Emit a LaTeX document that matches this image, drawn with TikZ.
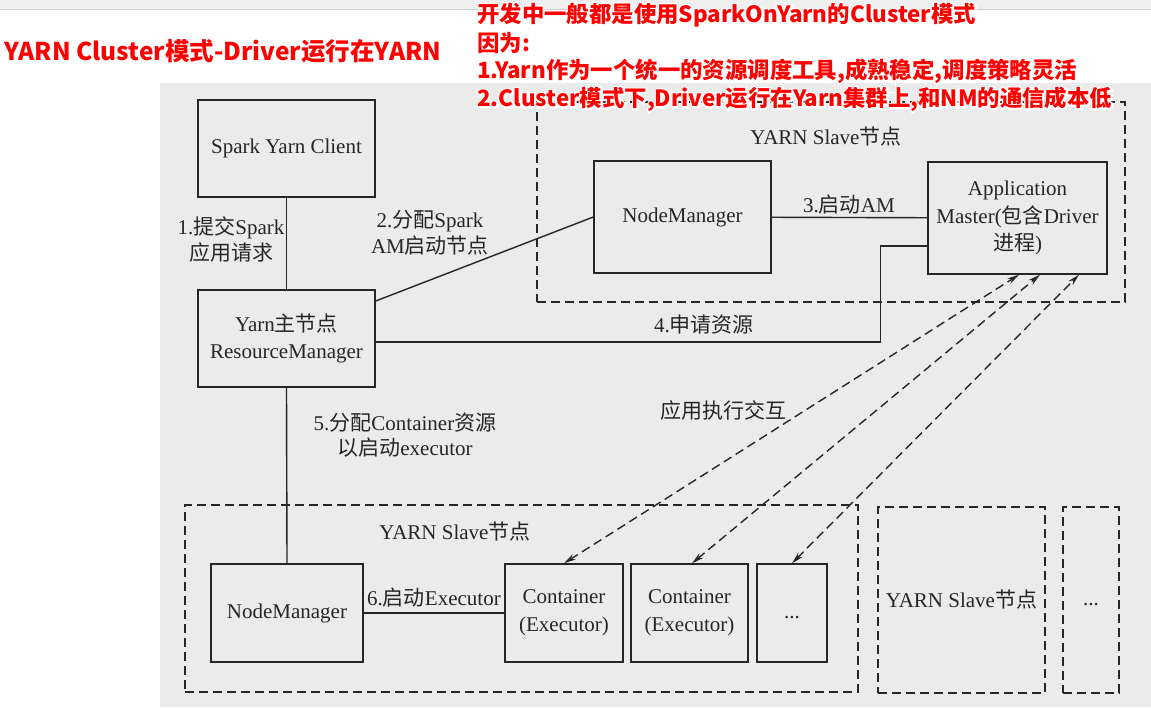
\documentclass[tikz,border=0pt]{standalone}
\usepackage{fontspec}
\setmainfont{Liberation Serif}
\newfontfamily\cjk{Noto Sans CJK SC}
\newfontfamily\cjkhalo{Noto Sans CJK SC}[UprightFeatures={FakeBold=14}, BoldFeatures={FakeBold=14}]
\usetikzlibrary{arrows.meta,calc}
\definecolor{scan}{RGB}{235,235,235}
\definecolor{ink}{RGB}{38,38,38}
\definecolor{redtxt}{RGB}{255,0,0}
\newcommand\zh[1]{{\cjk #1}}
\newcommand\halotext[4]{%
  \node[note, text=white, font=\cjkhalo\bfseries\fontsize{22.4}{22}\selectfont] at (#2,#3) {#4};%
  \node[note] (#1) at (#2,#3) {#4};}
\begin{document}
\begin{tikzpicture}[x=1pt,y=-1pt,
  box/.style={draw=ink, line width=1.4pt, inner sep=0pt, align=center, text=ink,
    font=\fontsize{21}{27.5}\selectfont},
  zone/.style={draw=ink, line width=1.4pt, dash pattern=on 9pt off 5pt, inner sep=0pt,
    text=ink, font=\fontsize{21}{27.5}\selectfont},
  lbl/.style={inner sep=0pt, align=center, text=ink, font=\fontsize{21}{25.5}\selectfont},
  link/.style={draw=ink, line width=1.4pt},
  inter/.style={draw=ink, line width=1.4pt, dash pattern=on 9pt off 5pt,
    {Stealth[length=12pt,width=6pt]}-{Stealth[length=12pt,width=6pt]}},
  note/.style={inner sep=0pt, anchor=west, text=redtxt,
    font=\cjk\bfseries\fontsize{22.4}{22}\selectfont},
  titlenote/.style={note, font=\cjk\bfseries\fontsize{24.5}{24}\selectfont},
]
\useasboundingbox (0,0) rectangle (1151,707);
\fill[white] (0,0) rectangle (1151,707);
\fill[black!6] (0,0) rectangle (1151,9);
\draw[black!18] (0,9) -- (1151,9);
\fill[scan] (160,83) rectangle (1151,707);

% dashed zones
\node[zone, minimum width=588pt, minimum height=200pt] (slaveTop) at (831,202) {};
\node[zone, minimum width=673pt, minimum height=187pt] (slaveBot) at (521.5,598.5) {};
\node[zone, minimum width=167pt, minimum height=186pt] (slave2) at (961.5,600) {YARN Slave\zh{节点}};
\node[zone, minimum width=56pt, minimum height=186pt] (slave3) at (1091,600) {\strut...};
\node[lbl] (slaveTopLbl) at (826,137) {YARN Slave\zh{节点}};
\node[lbl] (slaveBotLbl) at (455,532) {YARN Slave\zh{节点}};

% boxes
\node[box, minimum width=177pt, minimum height=97pt] (client) at (286.5,148.5) {Spark Yarn Client};
\node[box, minimum width=177pt, minimum height=97pt] (rm) at (286.5,338.5) {Yarn\zh{主节点}\\ResourceManager};
\node[box, minimum width=177pt, minimum height=112pt] (nmTop) at (682.5,217) {NodeManager};
\node[box, minimum width=179pt, minimum height=112pt] (am) at (1017.5,218) {Application\\Master(\zh{包含}Driver\\\zh{进程})};
\node[box, minimum width=152pt, minimum height=98pt] (nmBot) at (287,613) {NodeManager};
\node[box, minimum width=118pt, minimum height=98pt] (c1) at (564,613) {Container\\(Executor)};
\node[box, minimum width=117pt, minimum height=98pt] (c2) at (689.5,613) {Container\\(Executor)};
\node[box, minimum width=70pt, minimum height=98pt] (dots) at (792,613) {\strut...};

% connectors
\draw[link] (client) -- (rm);
\draw[link] (rm.south) -- (nmBot.north);
\draw[link] ([yshift=37.5pt]rm.east) -- (nmTop.west);
\draw[link] (nmTop) -- (am);
\draw[link] ([yshift=-3.5pt]rm.east) -- ++(505,0) |- ([yshift=-28pt]am.west);
\draw[link] (nmBot) -- (c1);
\draw[inter] (c1.north) -- ([xshift=1.5pt]am.south);
\draw[inter] ([xshift=2.5pt]c2.north) -- ([xshift=22.5pt]am.south);
\draw[inter] (dots.north) -- ([xshift=61.5pt]am.south);

% labels
\node[lbl] (l1) at (231,239.5) {1.\zh{提交}Spark\\\zh{应用请求}};
\node[lbl] (l2) at (430,232.5) {2.\zh{分配}Spark\\AM\zh{启动节点}};
\node[lbl] (l3) at (849,205) {3.\zh{启动}AM};
\node[lbl] (l4) at (704,325) {4.\zh{申请资源}};
\node[lbl] (l5) at (405,435) {5.\zh{分配}Container\zh{资源}\\\zh{以启动}executor};
\node[lbl] (l6) at (434,598) {6.\zh{启动}Executor};
\node[lbl] (lx) at (723,410) {\zh{应用执行交互}};

% red annotations
\node[titlenote] (title) at (4,51) {YARN Cluster模式-Driver运行在YARN};
\halotext{n1}{477}{15}{开发中一般都是使用SparkOnYarn的Cluster模式}
\halotext{n2}{477}{43}{因为:}
\halotext{n3}{477}{71}{1.Yarn作为一个统一的资源调度工具,成熟稳定,调度策略灵活}
\halotext{n4}{477}{99.5}{2.Cluster模式下,Driver运行在Yarn集群上,和NM的通信成本低}
\end{tikzpicture}
\end{document}
